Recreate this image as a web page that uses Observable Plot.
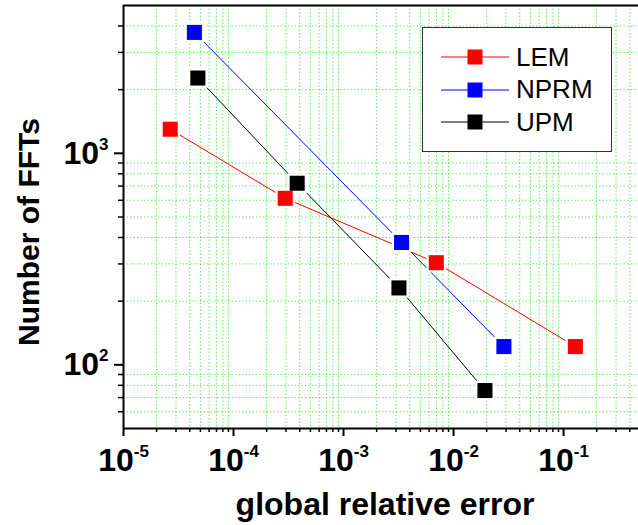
<!DOCTYPE html>
<html><head><meta charset="utf-8">
<script src="https://cdn.jsdelivr.net/npm/d3@7"></script>
<script src="https://cdn.jsdelivr.net/npm/@observablehq/plot@0.6"></script>
<style>
body{margin:0;background:#fff;}
#wrap{position:relative;width:638px;height:525px;overflow:hidden;}
#legend{position:absolute;left:422px;top:27px;width:188px;height:123px;border:1.5px solid #333;background:#fff;font-family:"Liberation Sans",Arial,sans-serif;font-size:26px;}
.entry{position:absolute;left:0;height:32px;display:flex;align-items:center;}
.entry svg{margin-left:18px;margin-right:7px;}
</style></head>
<body><div id="wrap"><div id="chart"></div><div id="legend"></div></div>
<script>
// ---- data ----
const lemError  = [2.66e-5, 2.95e-4, 6.97e-3, 0.128];
const lemFFTs   = [1300, 613, 304, 122];
const nprmError = [4.41e-5, 3.37e-3, 0.0287];
const nprmFFTs  = [3730, 379, 122];
const upmError  = [4.74e-5, 3.79e-4, 3.19e-3, 0.0193];
const upmFFTs   = [2270, 722, 231, 75.6];
const seriesNames  = ["LEM", "NPRM", "UPM"];
const seriesColors = ["#ff0000", "#0000ff", "#000000"];
const xMajorTicks = [1e-5, 1e-4, 1e-3, 1e-2, 1e-1];
const xTickLabels = ["10^-5", "10^-4", "10^-3", "10^-2", "10^-1"];
const yMajorTicks = [100, 1000];
const yTickLabels = ["10^2", "10^3"];
const minorMultipliers = [2, 3, 4, 5, 6, 7, 8, 9];
const xDomain = [1e-5, 0.48];
const yDomain = [50, 5000];
const xTitle = "global relative error";
const yTitle = "Number of FFTs";

const seriesData = [
  {name: "LEM", xs: lemError, ys: lemFFTs},
  {name: "NPRM", xs: nprmError, ys: nprmFFTs},
  {name: "UPM", xs: upmError, ys: upmFFTs}
];
const rows = seriesData.flatMap(s => s.xs.map((x, i) => ({series: s.name, x, y: s.ys[i]})));

function minorTicks(domain) {
  const out = [];
  for (let e = Math.floor(Math.log10(domain[0])); e <= Math.ceil(Math.log10(domain[1])); e++) {
    for (const m of minorMultipliers) {
      const v = m * Math.pow(10, e);
      if (v > domain[0] * 1.0001 && v < domain[1] * 0.9999) out.push(v);
    }
  }
  return out;
}
const xMinor = minorTicks(xDomain);
const yMinor = minorTicks(yDomain);

const gridStyle = {stroke: "#00dd00", strokeDasharray: "1.5,2", strokeWidth: 1, strokeOpacity: 0.6};
const fontFamily = "Liberation Sans, Arial, sans-serif";

const chart = Plot.plot({
  width: 638,
  height: 525,
  marginTop: 5,
  marginLeft: 123,
  marginRight: 0,
  marginBottom: 97,
  style: {fontFamily, background: "white", overflow: "visible"},
  x: {type: "log", domain: xDomain},
  y: {type: "log", domain: yDomain},
  color: {domain: seriesNames, range: seriesColors},
  marks: [
    Plot.ruleX(xMinor, gridStyle),
    Plot.ruleY(yMinor, gridStyle),
    Plot.axisX({ticks: xMinor, tickSize: 4, strokeWidth: 1.5, label: null, tickFormat: () => ""}),
    Plot.axisX({ticks: xMajorTicks, tickSize: 8, tickPadding: 12, strokeWidth: 2, fontSize: 32, fontWeight: "bold", label: null,
      tickFormat: d => xTickLabels[xMajorTicks.indexOf(d)]}),
    Plot.axisY({ticks: yMinor, tickSize: 5, strokeWidth: 1.5, label: null, tickFormat: () => ""}),
    Plot.axisY({ticks: yMajorTicks, tickSize: 9, tickPadding: 6, strokeWidth: 2, fontSize: 32, fontWeight: "bold", label: null,
      tickFormat: d => yTickLabels[yMajorTicks.indexOf(d)]}),
    Plot.ruleY([yDomain[1]], {stroke: "black", strokeWidth: 2}),
    Plot.ruleY([yDomain[0]], {stroke: "black", strokeWidth: 2}),
    Plot.ruleX([xDomain[0]], {stroke: "black", strokeWidth: 2}),
    Plot.line(rows, {x: "x", y: "y", z: "series", stroke: "series", strokeWidth: 1}),
    Plot.dot(rows, {x: "x", y: "y", symbol: "square", r: 11, fill: "white", stroke: "none"}),
    Plot.dot(rows, {x: "x", y: "y", symbol: "square", r: 8.5, fill: "series", stroke: "none"}),
    Plot.text([xTitle], {frameAnchor: "bottom", textAnchor: "middle", lineAnchor: "bottom", dx: 4, dy: 86, fontSize: 32, fontWeight: "bold", fill: "black"}),
    Plot.text([yTitle], {frameAnchor: "left", textAnchor: "middle", rotate: -90, dx: -94, dy: 15, fontSize: 30, fontWeight: "bold", fill: "black"})
  ]
});
document.getElementById("chart").appendChild(chart);

// superscript exponents on tick labels
function supify(el) {
  const label = el.textContent;
  if (!label.includes("^")) return;
  const [base, exp] = label.split("^");
  const t = d3.select(el);
  t.text(null);
  t.append("tspan").attr("font-size", 32).attr("font-weight", "bold").text(base);
  t.append("tspan").attr("font-size", 17).attr("font-weight", "bold").attr("dy", -14).text(exp);
}
d3.select(chart).selectAll('g[aria-label="x-axis tick label"] text, g[aria-label="y-axis tick label"] text').each(function() { supify(this); });

// legend
const legend = document.getElementById("legend");
seriesNames.forEach((name, i) => {
  const div = document.createElement("div");
  div.className = "entry";
  div.style.top = (13 + i * 32.5) + "px";
  div.innerHTML = `<svg width="68" height="20"><line x1="0" x2="68" y1="10" y2="10" stroke="${seriesColors[i]}" stroke-width="1"/><rect x="26.5" y="2.5" width="15" height="15" fill="${seriesColors[i]}"/></svg><span>${name}</span>`;
  legend.appendChild(div);
});
</script>
</body></html>
